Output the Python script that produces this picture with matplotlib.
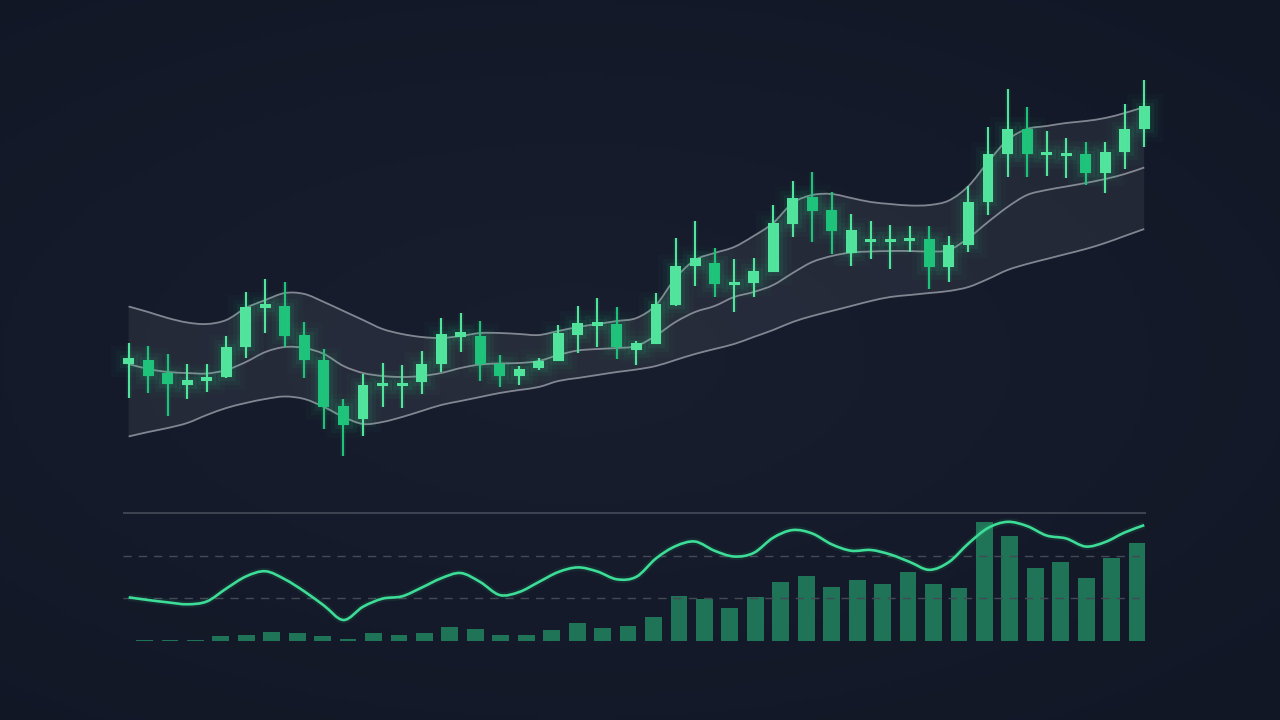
import matplotlib
matplotlib.use('Agg')
import matplotlib.pyplot as plt
from matplotlib.path import Path
from matplotlib.patches import PathPatch
from matplotlib.colors import LinearSegmentedColormap
import numpy as np

# candles (open, high, low, close)
opens = [110.57, 111.0, 109.73, 108.5, 108.9, 109.27, 112.27, 116.17, 116.43, 113.5,
         111.0, 106.4, 105.07, 108.4, 108.43, 108.77, 110.57, 113.3, 113.4, 110.6,
         109.37, 110.2, 110.93, 113.55, 114.43, 114.57, 112.0, 112.6, 116.5, 120.4,
         120.67, 118.47, 118.67, 119.83, 124.6, 127.33, 126.0, 121.67, 122.77, 122.8,
         122.9, 123.07, 120.33, 122.5, 126.77, 131.57, 134.1, 131.47, 131.43, 131.6,
         129.73, 131.83, 134.07]
highs = [112.73, 112.43, 111.57, 110.6, 110.6, 113.4, 117.83, 119.1, 118.77, 114.77,
         112.1, 107.1, 109.6, 110.67, 110.5, 111.9, 115.17, 115.67, 114.9, 111.5,
         110.43, 111.2, 114.5, 116.4, 117.17, 116.27, 112.93, 117.75, 123.25, 124.93,
         122.17, 121.1, 121.17, 126.5, 128.93, 129.77, 127.83, 125.57, 124.9, 124.5,
         124.43, 124.4, 123.4, 128.4, 134.27, 138.1, 136.27, 133.9, 133.23, 132.83,
         132.83, 136.6, 139.0]
lows = [107.23, 107.67, 105.43, 107.07, 107.77, 109.2, 111.23, 113.73, 112.33, 109.23,
        104.1, 101.43, 103.43, 106.27, 106.17, 107.6, 109.77, 111.77, 108.9, 108.27,
        108.5, 110.0, 110.9, 111.75, 112.33, 111.13, 110.53, 112.6, 116.4, 118.43,
        117.33, 115.83, 117.27, 119.8, 123.27, 122.83, 121.6, 120.43, 121.07, 120.07,
        121.83, 118.07, 118.83, 121.8, 125.5, 129.33, 129.33, 129.43, 129.17, 128.5,
        127.67, 130.1, 132.27]
closes = [111.17, 109.43, 108.57, 109.0, 109.33, 112.33, 116.27, 116.57, 113.43, 111.0,
          106.33, 104.5, 108.5, 108.73, 108.73, 110.6, 113.57, 113.77, 110.57, 109.43,
          110.1, 110.9, 113.67, 114.65, 114.8, 112.33, 112.67, 116.6, 120.43, 121.17,
          118.57, 118.73, 119.93, 124.67, 127.17, 125.93, 123.93, 124.0, 123.07, 123.1,
          123.17, 120.33, 122.5, 126.8, 131.57, 134.07, 131.57, 131.73, 131.7, 129.67,
          131.83, 134.07, 136.37]

# bands
band_upper = [116.35, 115.8, 115.2, 114.75, 114.6, 115.0, 116.2, 117.0, 117.7, 117.6,
              116.8, 115.9, 115.0, 114.1, 113.6, 113.3, 113.2, 113.4, 113.7, 113.7,
              113.6, 113.5, 113.9, 114.3, 114.6, 114.9, 115.2, 116.5, 119.2, 121.0,
              121.7, 122.3, 123.4, 124.7, 126.7, 127.5, 127.6, 127.2, 126.8, 126.6,
              126.45, 126.5, 126.95, 128.4, 130.8, 133.0, 134.1, 134.4, 134.7, 134.9,
              135.2, 135.7, 136.3]
band_mid = [110.6, 110.1, 109.8, 109.7, 109.65, 110.0, 110.8, 111.8, 112.3, 112.2,
            111.6, 110.4, 109.7, 109.4, 109.3, 109.4, 109.7, 110.2, 110.55, 110.65,
            110.7, 110.9, 111.5, 111.95, 112.1, 112.2, 112.4, 113.45, 114.8, 115.8,
            116.4, 117.3, 117.8, 118.5, 119.7, 120.8, 121.4, 121.75, 121.85, 121.9,
            121.9, 121.85, 122.0, 123.2, 124.8, 126.3, 127.5, 128.0, 128.35, 128.7,
            129.1, 129.6, 130.25]
band_lower = [103.35, 103.8, 104.2, 104.7, 105.5, 106.2, 106.7, 107.1, 107.35, 107.1,
              106.3, 105.3, 104.6, 104.8, 105.3, 105.9, 106.5, 106.9, 107.3, 107.7,
              108.0, 108.3, 108.9, 109.2, 109.5, 109.8, 110.05, 110.4, 111.0, 111.6,
              112.1, 112.6, 113.3, 114.0, 114.8, 115.4, 115.9, 116.4, 116.9, 117.3,
              117.5, 117.7, 117.9, 118.3, 119.1, 120.0, 120.6, 121.1, 121.6, 122.1,
              122.7, 123.4, 124.1]

# oscillator line (0-100 scale)
osc = [34.1, 32.0, 30.2, 28.7, 30.9, 41.0, 50.4, 54.5, 48.2, 38.7,
       27.7, 16.4, 26.8, 33.1, 34.9, 41.7, 49.0, 53.1, 46.1, 35.9,
       38.3, 46.1, 53.9, 57.5, 54.3, 48.2, 50.2, 64.5, 74.1, 77.7,
       70.5, 66.0, 68.8, 80.7, 86.7, 84.0, 75.5, 70.5, 71.1, 67.6,
       61.7, 55.6, 61.7, 76.2, 88.3, 93.1, 89.8, 82.4, 80.1, 73.8,
       77.3, 84.8, 90.5]

# volume bars (same 0-100 scale)
volume = [0.3, 0.8, 0.8, 0.8, 4.1, 4.9, 7.3, 6.3, 4.1, 1.3,
          6.3, 4.5, 6.0, 10.7, 9.1, 4.7, 4.7, 8.6, 13.8, 9.9,
          11.7, 19.0, 35.4, 32.8, 26.0, 34.1, 46.1, 51.0, 42.4, 47.7,
          44.5, 53.7, 44.3, 41.2, 93.2, 82.3, 56.8, 61.7, 49.5, 64.6,
          76.3]
osc_levels = [33.33, 66.67]

BG = '#141a2a'
UP = '#52e39c'
DOWN = '#1fc27a'
GLOW = '#2ee88f'


def smooth_verts(x, y):
    # cubic bezier segments through every point (catmull-rom style handles)
    pts = np.column_stack([x, y]).astype(float)
    n = len(pts)
    verts = [pts[0]]
    for i in range(n - 1):
        p0 = pts[max(i - 1, 0)]
        p1 = pts[i]
        p2 = pts[i + 1]
        p3 = pts[min(i + 2, n - 1)]
        verts += [p1 + (p2 - p0) / 6, p2 - (p3 - p1) / 6, p2]
    return verts


def smooth_line(ax, x, y, **kw):
    verts = smooth_verts(x, y)
    codes = [Path.MOVETO] + [Path.CURVE4] * (len(verts) - 1)
    ax.add_patch(PathPatch(Path(verts, codes), facecolor='none', **kw))


def smooth_band(ax, x, lo, hi, **kw):
    top = smooth_verts(x, hi)
    bot = smooth_verts(x[::-1], lo[::-1])
    verts = top + bot + [top[0]]
    codes = ([Path.MOVETO] + [Path.CURVE4] * (len(top) - 1) +
             [Path.LINETO] + [Path.CURVE4] * (len(bot) - 1) + [Path.CLOSEPOLY])
    ax.add_patch(PathPatch(Path(verts, codes), **kw))


fig = plt.figure(figsize=(12.8, 7.2), dpi=100, facecolor=BG)

# soft vignette behind everything
bg_ax = fig.add_axes([0, 0, 1, 1], zorder=-10)
yy, xx = np.mgrid[0:1:200j, 0:1:360j]
r = np.sqrt(((xx - 0.45) / 0.9) ** 2 + ((yy - 0.5) / 0.8) ** 2)
bg_ax.imshow(np.clip(1 - r, 0, 1), cmap=LinearSegmentedColormap.from_list('bg', ['#121726', '#181e2e']),
             aspect='auto', extent=[0, 1, 0, 1])
bg_ax.axis('off')

ax = fig.add_axes([123 / 1280, 240 / 720, 1023 / 1280, 440 / 720])
ax.set_facecolor('none')
t = np.arange(len(closes))
o = np.array(opens)
c = np.array(closes)
up = c >= o
colors = [UP if u else DOWN for u in up]

smooth_band(ax, t, np.array(band_lower), np.array(band_upper), facecolor='white', alpha=0.065, lw=0)
for band in (band_upper, band_mid, band_lower):
    smooth_line(ax, t, band, edgecolor='#a4a8b2', lw=1.3, alpha=0.75)

body_lo = np.minimum(o, c)
body_h = np.maximum(np.abs(c - o), 0.3)

# glow
for lw, a in [(18, 0.025), (11, 0.04), (5, 0.065)]:
    ax.bar(t, body_h, 0.56, bottom=body_lo, color=GLOW, alpha=a, edgecolor=GLOW, linewidth=lw, clip_on=False)
ax.vlines(t, lows, highs, color=GLOW, lw=4, alpha=0.07, clip_on=False)

ax.vlines(t, lows, highs, color=colors, lw=1.5, clip_on=False)
ax.bar(t, body_h, 0.56, bottom=body_lo, color=colors, linewidth=0, clip_on=False)

ax.set_xlim(-0.29, 52.09)
ax.set_ylim(99, 143)
ax.axis('off')

# lower panel
ax2 = fig.add_axes([123 / 1280, 75 / 720, 1023 / 1280, 145 / 720])
ax2.set_facecolor('none')
vx = np.arange(len(volume))
ax2.bar(vx, volume, 0.66, color='#1f7356', linewidth=0)
ax2.axhline(100, color='#4a505e', lw=1.1)
for lev in osc_levels:
    ax2.axhline(lev, color='#434956', lw=1, dashes=(6, 5))
ax2.set_xlim(0.157, 40.35)
ax2.set_ylim(-3.125, 110.16)
ax2.axis('off')

ax3 = ax2.twiny()
smooth_line(ax3, t, osc, edgecolor=GLOW, lw=5, alpha=0.08)
smooth_line(ax3, t, osc, edgecolor='#3ddc97', lw=1.9)
ax3.set_xlim(-0.29, 52.09)
ax3.set_ylim(-3.125, 110.16)
ax3.axis('off')

fig.savefig('out.png', dpi=100, facecolor=BG)
